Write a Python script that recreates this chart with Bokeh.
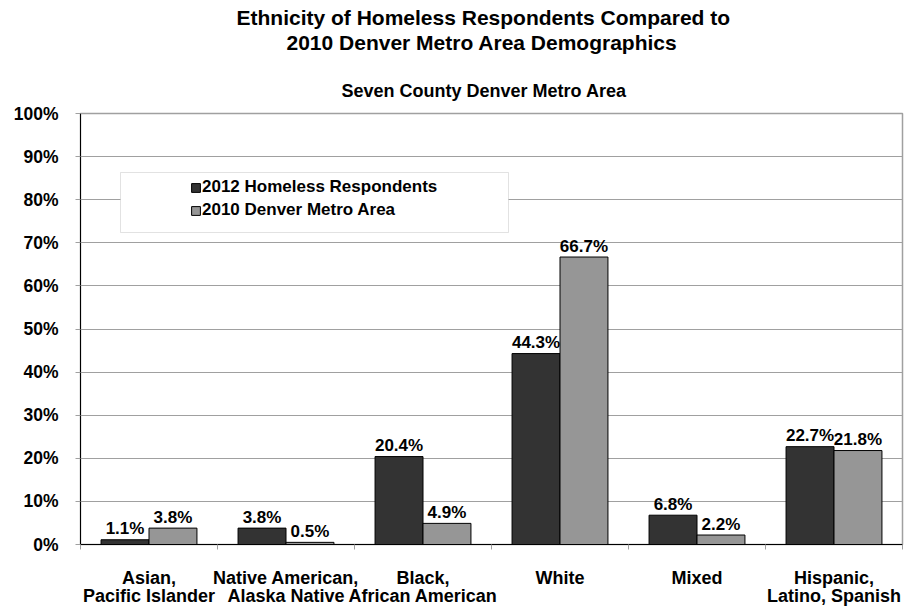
import numpy as np
from bokeh.plotting import figure
from bokeh.models import (Range1d, FixedTicker, PrintfTickFormatter, Title, Legend,
                          LegendItem, BoxAnnotation, ColumnDataSource)
from bokeh.transform import dodge
from bokeh.core.properties import value
from bokeh.embed import file_html
from bokeh.resources import INLINE

# ---------------- data ----------------
title_line1 = "Ethnicity of Homeless Respondents Compared to"
title_line2 = "2010 Denver Metro Area Demographics"
subtitle = "Seven County Denver Metro Area"

categories = [
    "Asian,\nPacific Islander",
    "Native American,\nAlaska Native",
    "Black,\nAfrican American",
    "White",
    "Mixed",
    "Hispanic,\nLatino, Spanish",
]
homeless_2012 = [1.1, 3.8, 20.4, 44.3, 6.8, 22.7]
metro_2010 = [3.8, 0.5, 4.9, 66.7, 2.2, 21.8]
series_names = ["2012 Homeless Respondents", "2010 Denver Metro Area"]
y_ticks = [0, 10, 20, 30, 40, 50, 60, 70, 80, 90, 100]

# ---------------- style ----------------
FONT = "Liberation Sans"
GRID = "#a0a0a0"
DARK = "#333333"
LIGHT = "#969696"

n = len(categories)
centers = [i + 0.5 for i in range(n)]
bounds = [float(i) for i in range(n + 1)]

src = ColumnDataSource(dict(
    x=centers,
    h=homeless_2012,
    m=metro_2010,
    hl=[f"{v:.1f}%" for v in homeless_2012],
    ml=[f"{v:.1f}%" for v in metro_2010],
))

p = figure(width=907, height=608, x_range=Range1d(0, n), y_range=Range1d(0, 100),
           output_backend="svg", toolbar_location=None,
           min_border_left=80, min_border_right=5, min_border_top=113, min_border_bottom=64)
p.background_fill_color = "white"
p.border_fill_color = "white"
p.outline_line_color = GRID
p.outline_line_width = 1.5

# y axis
p.yaxis.ticker = FixedTicker(ticks=y_ticks)
p.yaxis.formatter = PrintfTickFormatter(format="%d%%")
p.yaxis.major_tick_out = 5
p.yaxis.major_tick_in = 0
p.yaxis.major_tick_line_color = GRID
p.yaxis.minor_tick_line_color = None
p.yaxis.axis_line_color = "black"
p.yaxis.major_label_standoff = 17
p.yaxis.major_label_text_font = FONT
p.yaxis.major_label_text_font_style = "bold"
p.yaxis.major_label_text_font_size = "17.5px"
p.yaxis.major_label_text_color = "black"

# x axis
p.xaxis.ticker = FixedTicker(ticks=centers, minor_ticks=bounds)
p.xaxis.major_label_overrides = {c: lab for c, lab in zip(centers, categories)}
p.xaxis.major_tick_line_color = None
p.xaxis.major_tick_out = 0
p.xaxis.major_tick_in = 0
p.xaxis.minor_tick_out = 5
p.xaxis.minor_tick_in = 0
p.xaxis.minor_tick_line_color = GRID
p.xaxis.axis_line_color = "black"
p.xaxis.major_label_standoff = 18
p.xaxis.major_label_text_font = FONT
p.xaxis.major_label_text_font_style = "bold"
p.xaxis.major_label_text_font_size = "18px"
p.xaxis.major_label_text_line_height = 0.92
p.xaxis.major_label_text_color = "black"

p.xgrid.visible = False
p.ygrid.ticker = FixedTicker(ticks=y_ticks)
p.ygrid.grid_line_color = GRID
p.ygrid.grid_line_width = 1

# bars
r1 = p.vbar(x=dodge("x", -0.175, range=p.x_range), top="h", width=0.35, source=src,
            fill_color=DARK, line_color="black", line_width=1)
r2 = p.vbar(x=dodge("x", 0.175, range=p.x_range), top="m", width=0.35, source=src,
            fill_color=LIGHT, line_color="black", line_width=1)

# value labels
for col, lab, off in (("h", "hl", -0.175), ("m", "ml", 0.175)):
    p.text(x=dodge("x", off, range=p.x_range), y=col, text=lab, source=src,
           text_font=value(FONT), text_font_style="bold", text_font_size="17px",
           text_align="center", text_baseline="alphabetic", y_offset=-11,
           text_color="black")

# legend box + legend
box = BoxAnnotation(left=40, right=428, bottom=312, top=372,
                    left_units="screen", right_units="screen",
                    top_units="screen", bottom_units="screen",
                    fill_color="white", fill_alpha=1.0,
                    line_color=GRID, line_width=1)
p.add_layout(box)

legend = Legend(items=[LegendItem(label=series_names[0], renderers=[r1]),
                       LegendItem(label=series_names[1], renderers=[r2])],
                location=(110, 324), orientation="vertical",
                padding=0, margin=0, spacing=3,
                glyph_width=11, glyph_height=11, label_height=20, label_standoff=1,
                border_line_color=None, background_fill_alpha=0,
                label_text_font=FONT, label_text_font_style="bold",
                label_text_font_size="17px", label_text_color="black")
p.add_layout(legend)

# titles (first added sits closest to the plot)
p.title.text = ""
p.add_layout(Title(text="\n" + subtitle, align="left", offset=261, standoff=24.5,
                   text_font=FONT, text_font_style="bold", text_font_size="18px",
                   text_line_height=0.694, text_color="black"), "above")
p.add_layout(Title(text=title_line2, align="left", offset=206, standoff=0,
                   text_font=FONT, text_font_style="bold", text_font_size="21px",
                   text_color="black"), "above")
p.add_layout(Title(text=title_line1, align="left", offset=156, standoff=0,
                   text_font=FONT, text_font_style="bold", text_font_size="21px",
                   text_color="black"), "above")

open("out.html", "w").write(file_html(p, INLINE))
